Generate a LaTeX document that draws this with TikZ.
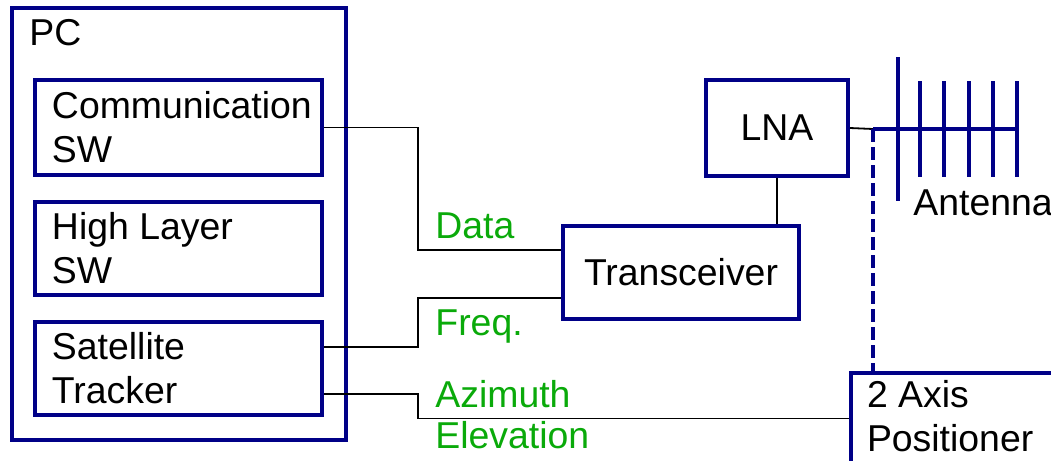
\documentclass[tikz,border=0pt]{standalone}
\usepackage{fontspec}
\setmainfont{Liberation Sans}
\usepackage{xcolor}
\usepackage{tikz}

\definecolor{boxblue}{RGB}{0,0,135}
\definecolor{sigreen}{RGB}{10,170,10}

\begin{document}
\begin{tikzpicture}[x=0.5pt, y=-0.5pt,
  every node/.style={font=\fontsize{18.7}{22}\selectfont},
  unit/.style={draw=boxblue, line width=2pt, fill=white},
  swbox/.style={unit, minimum width=143.5pt, minimum height=46.5pt,
    text width=126.5pt, inner xsep=8.5pt, align=flush left},
  wire/.style={black, line width=0.9pt},
  sig/.style={text=sigreen, inner sep=0pt, anchor=base west},
  element/.style={boxblue, line width=1.8pt}]
\clip (0,0) rectangle (1051,461);

\node[unit, minimum width=167pt, minimum height=216pt] (pc) at (179,224) {};
\node[anchor=base west, inner sep=0pt] (pclbl) at (29,45) {PC};

\node[swbox, minimum height=47.5pt] (comm) at (178.5,127.5) {Communication\\SW};
\node[swbox] (high) at (178.5,248.5) {High Layer\\SW};
\node[swbox] (sat) at (178.5,368.5) {Satellite\\Tracker};

\node[unit, minimum width=118pt, minimum height=46.5pt] (trx) at (681,272.5) {Transceiver};
\node[unit, minimum width=71pt, minimum height=48pt] (lna) at (777,128) {LNA};
\node[unit, anchor=north west, minimum width=94.5pt, text width=86.5pt,
  inner xsep=8pt, inner ysep=3.5pt, text depth=60pt, align=flush left]
  (pos) at (849,371) {2 Axis\\Positioner};

\coordinate (jog) at (418,0);
\coordinate (feed) at (873,129);
\coordinate (freq) at ([yshift=10.75pt]sat.east);
\coordinate (azel) at ([yshift=-12.75pt]sat.east);

\draw[wire] (comm.east) -- (comm.east -| jog) |- ([yshift=11.25pt]trx.west);
\draw[wire] (freq) -- (freq -| jog) |- ([yshift=-12.75pt]trx.west);
\draw[wire] (azel) -- (azel -| jog) |- ([yshift=-23.75pt]pos.north west);
\draw[wire] (lna.south) -- (lna.south |- trx.north);
\draw[wire] (lna.east) -- (feed);

\draw[element] (feed) -- (1017,129);
\draw[element] (898,57) -- (898,201);
\draw[element] (920,81) -- (920,177);
\draw[element] (944,81) -- (944,177);
\draw[element] (969,81) -- (969,177);
\draw[element] (993,81) -- (993,177);
\draw[element] (1017,81) -- (1017,177);
\draw[element, dash pattern=on 6.5pt off 2.5pt] (feed) -- (feed |- pos.north);
\node[anchor=base west, inner sep=0pt] (ant) at (913,215) {Antenna};

\node[sig] (datalbl) at (435,238) {Data};
\node[sig] (freqlbl) at (435,335) {Freq.};
\node[sig] (azlbl) at (435,407) {Azimuth};
\node[sig] (ellbl) at (435,448) {Elevation};
\end{tikzpicture}
\end{document}
